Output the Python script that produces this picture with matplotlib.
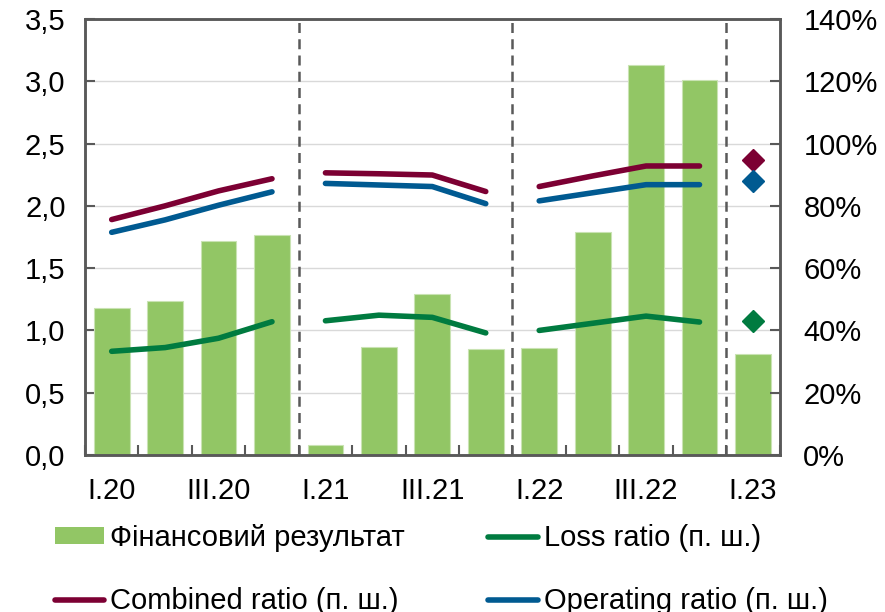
import numpy as np
import matplotlib.pyplot as plt
from matplotlib.patches import Patch
from matplotlib.lines import Line2D

plt.rcParams['font.family'] = ['Liberation Sans', 'DejaVu Sans']

quarters = ['I.20', 'II.20', 'III.20', 'IV.20',
            'I.21', 'II.21', 'III.21', 'IV.21',
            'I.22', 'II.22', 'III.22', 'IV.22',
            'I.23']
tick_labels = ['I.20', 'III.20', 'I.21', 'III.21', 'I.22', 'III.22', 'I.23']

fin_result = [1.18, 1.24, 1.72, 1.77,
              0.08, 0.87, 1.29, 0.85,
              0.86, 1.79, 3.13, 3.01,
              0.81]

# ratios, % (right axis); last value = I.23 shown as a diamond
loss_ratio = [33.3, 34.5, 37.5, 42.8,
              43.1, 44.9, 44.2, 39.2,
              40.0, 42.3, 44.6, 42.7,
              43.1]
combined_ratio = [75.6, 80.0, 84.8, 88.7,
                  90.6, 90.3, 89.9, 84.6,
                  86.2, 89.6, 92.8, 92.8,
                  94.6]
operating_ratio = [71.5, 75.5, 80.2, 84.5,
                   87.2, 86.7, 86.2, 80.7,
                   81.6, 84.2, 86.8, 86.8,
                   88.0]

bar_color = '#92c665'
loss_color = '#007b40'
comb_color = '#7c0033'
oper_color = '#005a91'
axis_color = '#595959'

fig = plt.figure(figsize=(8.85, 6.12), dpi=100)
ax = fig.add_axes([0.096, 0.2565, 0.785, 0.7125])
ax2 = ax.twinx()

x = np.arange(len(quarters))
ax.bar(x, fin_result, width=0.67, color=bar_color, edgecolor='#c9e3b3',
       linewidth=0.8, zorder=2)

ax.set_xlim(-0.5, len(quarters) - 0.5)
ax.set_ylim(0, 3.5)
ax.set_yticks(np.arange(0, 3.51, 0.5))
ax.set_yticklabels([f'{v:.1f}'.replace('.', ',') for v in np.arange(0, 3.51, 0.5)])
ax.grid(axis='y', color='#d9d9d9', linewidth=1.0, zorder=0)
ax.set_axisbelow(True)

ax.set_xticks([quarters.index(t) for t in tick_labels])
ax.set_xticklabels(tick_labels)
ax.set_xticks(np.arange(-0.5, len(quarters), 1.0), minor=True)
ax.tick_params(axis='x', which='major', length=0, pad=16, labelsize=21)
ax.tick_params(axis='x', which='minor', direction='in', length=7,
               width=1.5, color=axis_color)
ax.tick_params(axis='y', direction='in', length=7, width=1.5,
               color=axis_color, labelsize=21, pad=14)

for b in [3.5, 7.5, 11.5]:
    ax.axvline(b, color=axis_color, linestyle=(0, (4, 2.5)), linewidth=1.8,
               zorder=3)

ax2.set_ylim(0, 140)
ax2.set_yticks(np.arange(0, 141, 20))
ax2.set_yticklabels([f'{v}%' for v in range(0, 141, 20)])
ax2.tick_params(axis='y', direction='in', length=7, width=1.5,
                color=axis_color, labelsize=21, pad=17)

for series, c in [(loss_ratio, loss_color), (combined_ratio, comb_color),
                  (operating_ratio, oper_color)]:
    for start in [0, 4, 8]:
        ax2.plot(x[start:start + 4], series[start:start + 4], color=c,
                 linewidth=4.0, solid_capstyle='round', solid_joinstyle='round')
    ax2.plot(x[12], series[12], marker='D', markersize=11, color=c,
             linestyle='none')

for a in (ax, ax2):
    for s in a.spines.values():
        s.set_color(axis_color)
        s.set_linewidth(1.8)

handles = [Patch(facecolor=bar_color, edgecolor='none'),
           Line2D([], [], color=comb_color, linewidth=4.0, solid_capstyle='round'),
           Line2D([], [], color=loss_color, linewidth=4.0, solid_capstyle='round'),
           Line2D([], [], color=oper_color, linewidth=4.0, solid_capstyle='round')]
labels = ['Фінансовий результат', 'Combined ratio (п. ш.)',
          'Loss ratio (п. ш.)', 'Operating ratio (п. ш.)']
fig.legend(handles, labels, ncol=2, loc='upper left',
           bbox_to_anchor=(0.062, 0.144), frameon=False, fontsize=21,
           handlelength=1.7, handleheight=0.5, handletextpad=0.2,
           columnspacing=2.85, labelspacing=1.2, borderpad=0, borderaxespad=0)

fig.savefig('out.png', dpi=100)
